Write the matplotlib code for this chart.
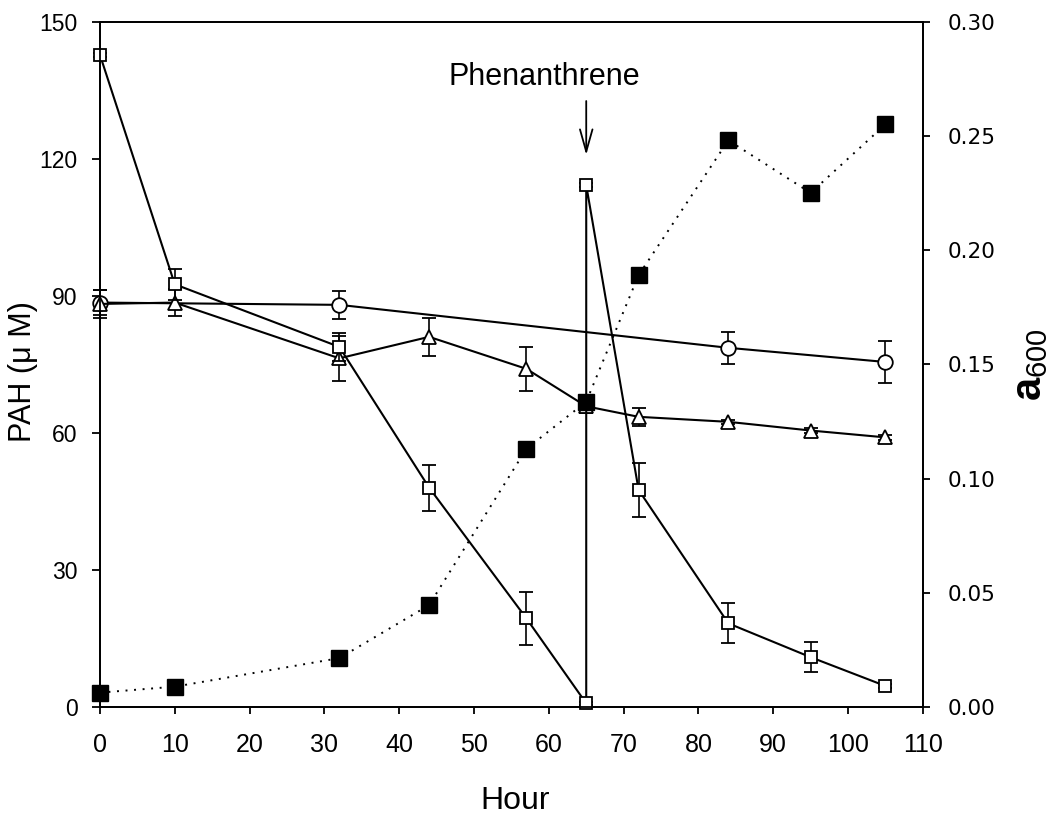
import matplotlib
matplotlib.use("Agg")
import matplotlib.pyplot as plt
from matplotlib.ticker import FixedLocator, FuncFormatter

plt.rcParams['font.family'] = ['Liberation Sans', 'DejaVu Sans']
plt.rcParams['mathtext.fontset'] = 'custom'
plt.rcParams['mathtext.rm'] = 'Liberation Sans'
plt.rcParams['mathtext.it'] = 'Liberation Sans:italic'
plt.rcParams['mathtext.bf'] = 'Liberation Sans:bold'

# ---- data ----
# open squares (PAH, µM), phenanthrene re-added at 65 h
sq_hours = [0, 10, 32, 44, 57, 65, 65, 72, 84, 95, 105]
sq_vals = [142.7, 92.5, 78.8, 48.0, 19.4, 0.8, 114.2, 47.5, 18.3, 10.9, 4.6]
sq_err = [0.5, 3.4, 3.0, 5.0, 5.8, 0.3, 0.5, 6.0, 4.4, 3.3, 0.5]

# open circles (PAH, µM)
ci_hours = [0, 32, 84, 105]
ci_vals = [88.5, 88.0, 78.6, 75.5]
ci_err = [2.8, 3.0, 3.5, 4.5]

# open triangles (PAH, µM)
tr_hours = [0, 10, 32, 44, 57, 65, 72, 84, 95, 105]
tr_vals = [88.2, 88.5, 76.3, 81.0, 74.0, 65.8, 63.5, 62.4, 60.5, 59.0]
tr_err = [3.0, 3.0, 4.9, 4.2, 4.8, 1.5, 2.0, 0.5, 0.5, 0.5]

# filled squares (OD600, right axis)
od_hours = [0, 10, 32, 44, 57, 65, 72, 84, 95, 105]
od_vals = [0.0063, 0.0089, 0.0214, 0.0446, 0.113, 0.1336, 0.189, 0.248, 0.225, 0.255]

x_ticks = [0, 10, 20, 30, 40, 50, 60, 70, 80, 90, 100, 110]
y_ticks = [0, 30, 60, 90, 120, 150]
y2_ticks = [0.00, 0.05, 0.10, 0.15, 0.20, 0.25, 0.30]

# ---- figure ----
fig = plt.figure(figsize=(10.51, 8.15), dpi=100)
ax = fig.add_axes([0.0951, 0.1325, 0.783, 0.8411])
ax2 = ax.twinx()

line_kw = dict(color='black', lw=1.5, capsize=5, elinewidth=1.2, capthick=1.2,
               markerfacecolor='white', markeredgecolor='black', markeredgewidth=1.3)


def unclip(container):
    for art in container.get_children():
        art.set_clip_on(False)


unclip(ax.errorbar(ci_hours, ci_vals, yerr=ci_err, marker='o', markersize=10.5,
                   zorder=3, **line_kw))
unclip(ax.errorbar(tr_hours, tr_vals, yerr=tr_err, marker='^', markersize=10.5,
                   zorder=3, **line_kw))
unclip(ax.errorbar(sq_hours, sq_vals, yerr=sq_err, marker='s', markersize=9,
                   zorder=4, **line_kw))

ax2.plot(od_hours, od_vals, color='black', lw=1.4, linestyle=(0, (1, 3.4)),
         marker='s', markersize=12, markerfacecolor='black', markeredgecolor='black',
         zorder=5, clip_on=False)

ax.set_xlim(0, 110)
ax.set_ylim(0, 150)
ax2.set_ylim(0, 0.30)

ax.xaxis.set_major_locator(FixedLocator(x_ticks))
ax.yaxis.set_major_locator(FixedLocator(y_ticks))
ax2.yaxis.set_major_locator(FixedLocator(y2_ticks))
ax2.yaxis.set_major_formatter(FuncFormatter(lambda v, p: f"{v:.2f}"))

for s in ax.spines.values():
    s.set_linewidth(1.3)
for s in ax2.spines.values():
    s.set_linewidth(1.3)

ax.tick_params(axis='x', direction='out', length=5, width=1.3, pad=14, labelsize=18,
               top=False)
ax.tick_params(axis='y', direction='out', length=6, width=1.3, pad=10, labelsize=16.5,
               right=False)
ax2.tick_params(axis='y', direction='out', length=5, width=1.3, pad=13, labelsize=15.5)
for lab in ax2.get_yticklabels():
    lab.set_family('DejaVu Sans')

ax.set_xlabel('Hour', fontsize=23)
ax.xaxis.set_label_coords(0.504, -0.115)
ax.set_ylabel('PAH (μ M)', fontsize=22)
ax.yaxis.set_label_coords(-0.075, 0.49)
ax2.set_ylabel(r'$\mathbf{a}_{\mathit{600}}$', fontsize=30, rotation=90)
ax2.yaxis.set_label_coords(1.106, 0.5)

ax.text(59.4, 136.0, 'Phenanthrene', ha='center', va='baseline', fontsize=22)
ax.annotate('', xy=(65, 120.8), xytext=(65, 132.6),
            arrowprops=dict(arrowstyle='->,head_length=1.6,head_width=0.45',
                            color='black', lw=1.3, shrinkA=0, shrinkB=0))

fig.savefig('out.png', dpi=100)
